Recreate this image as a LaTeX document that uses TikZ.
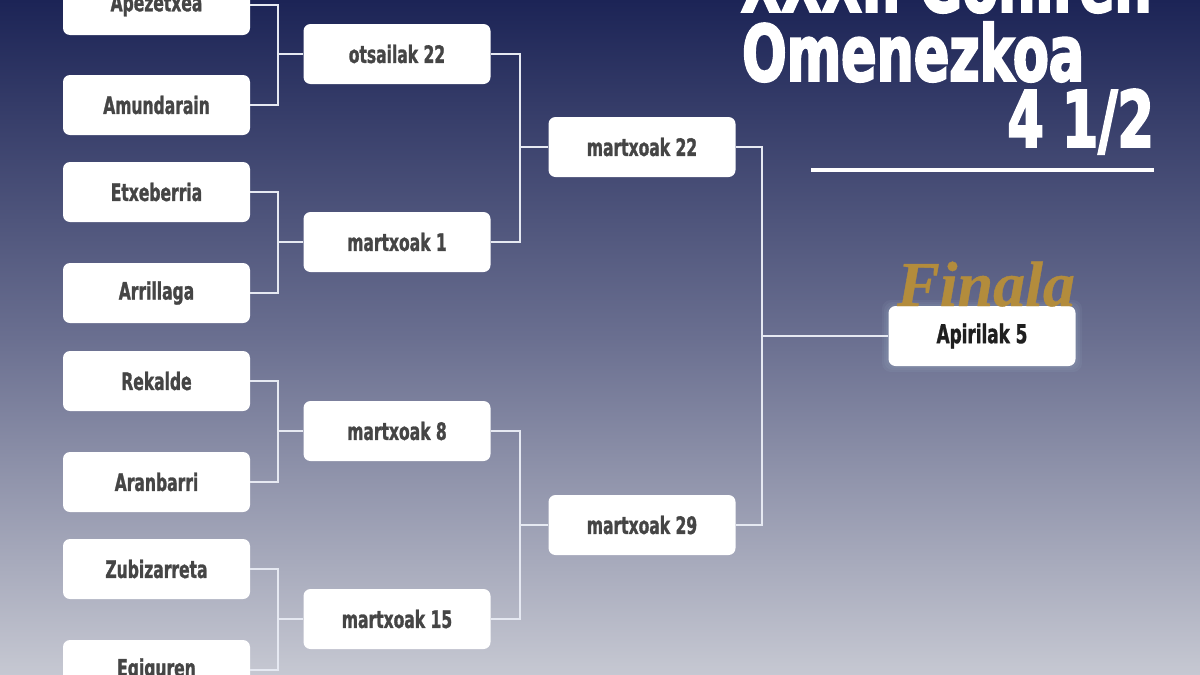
\documentclass[tikz,border=0pt]{standalone}
\usepackage{fontspec}
\newfontfamily\lblfont[FakeStretch=0.72,FakeBold=1.2]{DejaVu Sans Condensed}
\newfontfamily\titlefont[FakeStretch=0.745,FakeBold=2.5]{DejaVu Sans Condensed}
\newfontfamily\finfont[FakeBold=0.6]{Liberation Serif}
\definecolor{bgtop}{HTML}{1C2456}
\definecolor{bgmid}{HTML}{6A6F90}
\definecolor{bgbot}{HTML}{C6C8D2}
\definecolor{lbltext}{HTML}{454545}
\definecolor{conncol}{HTML}{E6E9F2}
\definecolor{gold}{HTML}{B38C3C}
\begin{document}
\begin{tikzpicture}[x=1pt,y=-1pt,
  box/.style={fill=white,rounded corners=7pt,minimum width=187pt,minimum height=60pt,inner sep=0pt,
    font=\lblfont\bfseries\fontsize{24}{24}\selectfont,text=lbltext},
  finbox/.style={box,font=\lblfont\bfseries\fontsize{26}{26}\selectfont,text=black!88},
  conn/.style={draw=conncol,line width=2pt},
  title/.style={inner sep=0pt,text=white,font=\titlefont\bfseries\fontsize{78}{78}\selectfont}]
\useasboundingbox (0,0) rectangle (1200,675);
\shade[top color=bgtop,bottom color=bgbot,middle color=bgmid] (0,0) rectangle (1200,675);
% round 1
\node[box] (r1a) at (156.5,5) {Apezetxea};
\node[box] (r1b) at (156.5,105) {Amundarain};
\node[box] (r1c) at (156.5,192) {Etxeberria};
\node[box] (r1d) at (156.5,293) {Arrillaga};
\node[box] (r1e) at (156.5,381) {Rekalde};
\node[box] (r1f) at (156.5,482) {Aranbarri};
\node[box] (r1g) at (156.5,569) {Zubizarreta};
\node[box] (r1h) at (156.5,670) {Egiguren};
% round 2
\node[box] (r2a) at (397,54) {otsailak 22};
\node[box] (r2b) at (397,242) {martxoak 1};
\node[box] (r2c) at (397,431) {martxoak 8};
\node[box] (r2d) at (397,619) {martxoak 15};
% round 3
\node[box] (r3a) at (642,147) {martxoak 22};
\node[box] (r3b) at (642,525) {martxoak 29};
% final
\foreach \g in {6,4,2}{
  \fill[cyan!20!white,opacity=0.05,rounded corners=9pt] (888-\g,306-\g) rectangle (1076+\g,366+\g);}
\node[finbox] (fin) at (982,336) {Apirilak 5};
\node[anchor=base,inner sep=0pt,text=gold,font=\finfont\bfseries\itshape\fontsize{64}{64}\selectfont] (finala) at (986,306) {Finala};
% connectors
\foreach \a/\b in {r1a/r2a,r1b/r2a,r1c/r2b,r1d/r2b,r1e/r2c,r1f/r2c,r1g/r2d,r1h/r2d}{
  \draw[conn] (\a.east) -- ++(28,0) |- (\b.west);}
\foreach \a/\b in {r2a/r3a,r2b/r3a,r2c/r3b,r2d/r3b}{
  \draw[conn] (\a.east) -- ++(29,0) |- (\b.west);}
\foreach \a in {r3a,r3b}{
  \draw[conn] (\a.east) -- ++(26,0) |- (fin.west);}
% title
\node[title,anchor=base east] (t1) at (1152,12) {XXXI. Goñiren};
\node[title,anchor=base west] (t2) at (742,81) {Omenezkoa};
\node[title,anchor=base east] (t3) at (1154,147) {4 1/2};
\coordinate (rl) at (811,170);
\coordinate (rr) at (1154,170);
\draw[white,line width=4pt] (rl) -- (rr);
\end{tikzpicture}
\end{document}
